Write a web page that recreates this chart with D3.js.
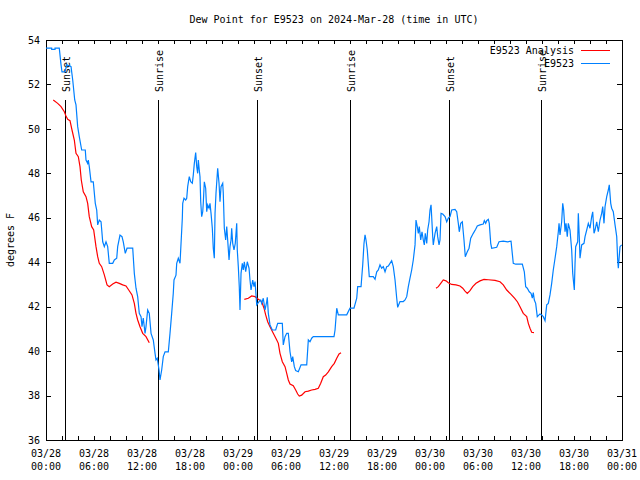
<!DOCTYPE html>
<html>
<head>
<meta charset="utf-8">
<script src="https://cdn.jsdelivr.net/npm/d3@7"></script>
<style>
  body { margin: 0; background: #fff; }
  svg text { font-family: "DejaVu Sans Mono", monospace; font-size: 10px; fill: #000; }
</style>
</head>
<body>
<div id="chart"></div>
<script>
// observed dew point (hours after 03/28 00:00 UTC, degrees F)
const obs = [
  [0,53.63],[0.71,53.63],[0.71,53.58],[1.13,53.58],[1.13,53.63],[1.66,53.63],[1.88,52.88],[2.0,52.57],[2.38,52.57],[2.59,52.88],
  [3.0,52.83],[3.13,52.8],[3.34,52.2],[3.59,51.3],[3.75,51.08],[3.96,50.1],[4.16,49.65],[4.46,49.05],[4.91,49.05],[5.0,48.6],
  [5.21,48.45],[5.29,48.6],[5.41,48.3],[5.63,47.62],[5.91,47.62],[6.16,46.65],[6.34,46.35],[6.46,45.68],[6.66,45.9],[6.88,45.82],
  [7.09,44.92],[7.29,44.7],[7.5,44.92],[7.71,44.7],[7.91,43.95],[8.34,43.95],[8.54,44.1],[8.84,44.18],[8.96,44.7],[9.25,45.22],
  [9.5,45.15],[9.66,44.92],[9.91,44.4],[10.13,44.63],[10.84,44.63],[11.04,43.5],[11.25,42.83],[11.46,42.45],[11.66,41.7],[11.88,41.55],
  [12.0,41.1],[12.16,41.49],[12.38,40.8],[12.5,41.1],[12.71,41.85],[12.91,41.7],[13.13,40.8],[13.41,40.5],[13.63,39.9],[13.75,39.6],
  [13.91,39.68],[14.13,39.15],[14.25,38.7],[14.46,39.15],[14.66,39.75],[14.88,39.97],[15.29,39.97],[15.5,40.8],[15.71,41.7],[15.91,42.6],
  [16.0,43.2],[16.25,43.42],[16.34,43.95],[16.54,44.18],[16.75,43.95],[16.88,44.85],[17.04,45.98],[17.09,46.65],[17.25,46.88],[17.46,46.8],
  [17.59,46.88],[17.71,47.4],[17.91,47.85],[18.09,47.62],[18.29,47.55],[18.41,47.92],[18.54,48.45],[18.71,48.93],[18.84,48.3],[18.96,48.0],
  [19.04,48.6],[19.16,48.15],[19.25,47.85],[19.34,46.72],[19.46,46.05],[19.59,46.27],[19.66,46.65],[19.79,47.62],[19.96,47.33],[20.09,46.27],
  [20.21,46.58],[20.38,46.43],[20.5,46.65],[20.63,46.2],[20.79,45.53],[20.91,44.63],[21.04,44.18],[21.13,46.2],[21.25,47.1],[21.46,48.23],
  [21.63,47.55],[21.75,46.72],[21.88,47.4],[22.09,47.55],[22.16,47.1],[22.29,45.53],[22.46,45.0],[22.59,45.6],[22.71,45.0],[22.88,44.1],
  [23.0,44.7],[23.13,45.0],[23.21,45.53],[23.34,44.85],[23.5,44.55],[23.66,44.85],[23.84,45.75],[23.91,44.55],[24.04,43.8],[24.16,42.9],
  [24.25,41.85],[24.38,43.5],[24.54,43.95],[24.66,43.65],[24.79,44.02],[24.96,43.57],[25.16,44.02],[25.38,43.73],[25.5,43.2],[25.63,42.75],
  [25.84,43.2],[26.0,42.9],[26.13,43.13],[26.34,42.08],[26.63,42.23],[26.84,42.3],[26.96,42.15],[27.16,42.38],[27.38,41.85],[27.59,42.23],
  [27.66,42.42],[27.79,41.7],[28.0,41.18],[28.29,40.95],[28.71,40.95],[28.96,41.25],[29.54,41.25],[29.66,40.28],[29.88,40.65],[30.09,40.8],
  [30.29,40.8],[30.5,39.97],[30.71,39.52],[30.84,39.75],[31.04,39.3],[31.21,39.12],[31.54,39.07],[31.88,39.38],[32.59,39.38],[32.79,40.5],
  [33.0,40.42],[33.21,40.58],[33.41,40.65],[36.0,40.65],[36.13,40.95],[36.34,41.93],[36.54,41.63],[37.59,41.63],[38.0,41.93],[38.5,41.93],
  [38.84,42.38],[38.96,42.9],[39.38,42.9],[39.46,43.28],[39.59,43.88],[39.75,44.85],[39.88,45.23],[40.0,45.0],[40.16,44.55],[40.41,43.35],
  [40.91,43.35],[41.13,43.23],[41.34,43.57],[41.54,43.65],[41.75,43.88],[41.96,43.73],[42.16,43.8],[42.38,43.57],[42.59,43.8],[42.79,43.83],
  [43.0,43.95],[43.21,44.07],[43.41,43.8],[43.63,43.2],[43.84,42.38],[43.96,41.97],[44.25,42.23],[44.66,42.23],[44.88,42.3],[45.09,42.45],
  [45.29,42.9],[45.5,43.28],[45.71,43.65],[45.91,44.1],[46.13,44.78],[46.25,45.9],[46.41,45.6],[46.54,45.3],[46.66,45.6],[46.84,45.0],
  [47.0,45.37],[47.16,45.0],[47.29,44.78],[47.41,45.3],[47.59,44.85],[47.71,45.45],[47.88,45.82],[48.0,46.35],[48.13,46.58],[48.21,46.05],
  [48.34,45.15],[48.41,44.78],[48.63,45.3],[48.84,45.6],[48.96,45.15],[49.13,44.78],[49.25,45.0],[49.38,46.2],[49.59,46.17],[49.88,46.05],
  [50.09,45.82],[50.29,45.98],[50.5,46.05],[50.71,46.35],[51.13,46.38],[51.34,46.27],[51.54,45.75],[51.66,45.37],[51.84,45.75],[52.04,45.82],
  [52.25,45.0],[52.41,44.25],[52.66,44.47],[52.88,44.63],[53.09,45.08],[53.41,45.3],[53.71,45.48],[53.91,45.63],[54.25,45.68],[54.66,45.72],
  [54.79,45.87],[54.96,45.75],[55.09,45.87],[55.29,45.93],[55.41,45.75],[55.59,44.85],[55.71,44.63],[56.34,44.67],[56.63,44.92],[57.16,44.95],
  [57.71,44.92],[58.13,44.95],[58.41,43.95],[58.71,43.91],[59.54,43.92],[59.79,43.57],[59.96,42.9],[60.16,42.83],[60.41,42.67],[60.63,42.6],
  [60.79,42.38],[60.91,42.63],[61.04,42.3],[61.21,42.15],[61.41,41.55],[61.63,41.63],[61.75,41.67],[61.96,41.63],[62.16,41.55],[62.38,41.37],
  [62.59,42.08],[62.79,42.15],[63.0,42.53],[63.21,43.05],[63.41,43.65],[63.63,44.18],[63.84,44.7],[64.04,45.37],[64.13,45.75],[64.25,45.23],
  [64.46,45.82],[64.59,46.65],[64.71,46.35],[64.88,45.37],[65.0,45.75],[65.16,45.15],[65.29,45.75],[65.5,45.45],[65.71,44.55],[65.84,43.5],
  [65.96,43.05],[66.04,42.75],[66.13,43.95],[66.21,44.7],[66.46,44.92],[66.54,46.2],[66.66,45.15],[66.75,44.18],[66.96,44.78],[67.25,44.85],
  [67.38,45.15],[67.59,45.45],[67.79,45.75],[68.0,45.53],[68.21,46.05],[68.34,46.27],[68.5,45.3],[68.63,45.45],[68.84,45.82],[69.04,45.37],
  [69.25,45.9],[69.46,46.2],[69.59,46.5],[69.75,45.75],[69.88,46.5],[70.09,46.95],[70.29,47.25],[70.41,47.48],[70.59,46.65],[70.71,46.43],
  [70.91,46.27],[71.13,45.68],[71.34,45.15],[71.46,44.1],[71.54,43.73],[71.75,44.7],[71.96,44.78]
];

// analysis runs (three separate nights)
const anaRun1 = [
  [0.91,51.3],[1.46,51.15],[1.88,51.0],[2.29,50.77],[2.5,50.58],[2.71,50.43],[3.0,50.37],[3.25,49.95],[3.54,49.5],[3.75,48.9],
  [4.04,48.75],[4.25,48.3],[4.41,47.7],[4.66,47.17],[5.0,46.95],[5.21,46.65],[5.41,46.05],[5.71,45.6],[5.96,45.45],[6.25,44.7],
  [6.46,44.25],[6.66,43.95],[6.96,43.8],[7.29,43.43],[7.63,42.98],[7.91,42.9],[8.34,43.02],[8.75,43.1],[9.16,43.05],[9.59,42.98],
  [10.0,42.93],[10.34,42.75],[10.75,42.53],[11.04,42.15],[11.25,41.7],[11.46,41.4],[11.75,41.1],[12.09,40.8],[12.5,40.65],[12.91,40.38]
];
const anaRun2 = [
  [24.79,42.33],[25.29,42.38],[25.71,42.48],[26.13,42.45],[26.54,42.33],[26.96,42.23],[27.25,41.93],[27.46,41.63],[27.71,41.32],[28.0,41.1],
  [28.41,40.8],[28.84,40.5],[29.04,40.35],[29.25,39.9],[29.54,39.52],[29.88,39.3],[30.09,39.0],[30.29,38.7],[30.5,38.52],[30.91,38.44],
  [31.21,38.25],[31.46,38.07],[31.66,37.98],[31.96,38.02],[32.38,38.17],[32.79,38.2],[33.21,38.25],[33.63,38.28],[34.04,38.33],[34.34,38.55],
  [34.66,38.85],[34.96,38.92],[35.29,39.07],[35.71,39.3],[36.04,39.45],[36.34,39.68],[36.63,39.87],[36.88,39.93]
];
const anaRun3 = [
  [48.75,42.83],[49.04,42.9],[49.34,43.05],[49.66,43.2],[50.0,43.16],[50.29,43.08],[50.71,43.0],[51.25,42.98],[51.75,42.93],[52.09,42.83],
  [52.38,42.7],[52.66,42.6],[53.0,42.72],[53.34,42.9],[53.75,43.05],[54.25,43.16],[54.75,43.23],[55.29,43.21],[56.13,43.18],[56.75,43.12],
  [57.16,42.98],[57.59,42.75],[58.13,42.55],[58.59,42.37],[58.94,42.21],[59.25,42.0],[59.66,41.7],[60.09,41.55],[60.29,41.25],[60.5,41.03],
  [60.71,40.85],[61.0,40.83]
];

const sunHours = [2.42, 14.04, 26.42, 38.04, 50.42, 61.92];
const sunLabels = ["Sunset", "Sunrise", "Sunset", "Sunrise", "Sunset", "Sunrise"];
const yTicks = [36, 38, 40, 42, 44, 46, 48, 50, 52, 54];
const seriesNames = ["E9523 Analysis", "E9523"];
const seriesColors = ["#ff0000", "#0080ff"];

const W = 640, H = 480;
const margin = { top: 40, right: 18, bottom: 40, left: 46 };
const plotL = margin.left, plotR = W - margin.right;
const plotT = margin.top, plotB = H - margin.bottom;

const t0 = new Date(Date.UTC(2024, 2, 28));
const t1 = new Date(Date.UTC(2024, 2, 31));
const at = h => new Date(t0.getTime() + h * 3600e3);

const svg = d3.select("#chart").append("svg")
  .attr("width", W)
  .attr("height", H);

const x = d3.scaleUtc().domain([t0, t1]).range([plotL, plotR]);
const y = d3.scaleLinear().domain([36, 54]).range([plotB, plotT]);

// axes: ticks inward on all four sides
const fixAxis = g => {
  g.select(".domain").remove();
  g.attr("font-family", null).attr("font-size", null);
  g.selectAll("line").attr("shape-rendering", "crispEdges");
};

svg.append("g")
  .attr("transform", `translate(0,${plotB})`)
  .call(d3.axisBottom(x).ticks(d3.utcHour.every(2)).tickSize(-4).tickFormat(""))
  .call(fixAxis);

svg.append("g")
  .attr("transform", `translate(0,${plotT})`)
  .call(d3.axisTop(x).ticks(d3.utcHour.every(2)).tickSize(-4).tickFormat(""))
  .call(fixAxis);

svg.append("g")
  .attr("transform", `translate(${plotL},0)`)
  .call(d3.axisLeft(y).tickValues(yTicks).tickSize(-5).tickPadding(6))
  .call(fixAxis);

svg.append("g")
  .attr("transform", `translate(${plotR},0)`)
  .call(d3.axisRight(y).tickValues(yTicks).tickSize(-5).tickFormat(""))
  .call(fixAxis);

// two-line date/time labels every 6 hours
const dayFmt = d3.utcFormat("%m/%d"), hourFmt = d3.utcFormat("%H:%M");
const xLab = svg.append("g").selectAll("text")
  .data(x.ticks(d3.utcHour.every(6)))
  .enter()
  .append("text")
  .attr("text-anchor", "middle");
xLab.append("tspan").attr("x", d => x(d)).attr("y", plotB + 17).text(d => dayFmt(d));
xLab.append("tspan").attr("x", d => x(d)).attr("y", plotB + 30).text(d => hourFmt(d));

// plot border
svg.append("rect")
  .attr("x", plotL + 0.5)
  .attr("y", plotT + 0.5)
  .attr("width", plotR - plotL)
  .attr("height", plotB - plotT)
  .attr("fill", "none")
  .attr("stroke", "#000")
  .attr("shape-rendering", "crispEdges");

// sunrise / sunset markers
const graphY = f => plotB - f * (plotB - plotT);
const sun = svg.append("g").selectAll("g")
  .data(sunHours)
  .enter()
  .append("g");

sun.append("line")
  .attr("x1", d => Math.round(x(at(d))) + 0.5)
  .attr("x2", d => Math.round(x(at(d))) + 0.5)
  .attr("y1", plotB)
  .attr("y2", graphY(0.85))
  .attr("stroke", "#000")
  .attr("shape-rendering", "crispEdges");

sun.append("text")
  .attr("transform", d => `translate(${Math.round(x(at(d))) + 5},${graphY(0.87)}) rotate(-90)`)
  .text((d, i) => sunLabels[i]);

// data lines
const line = d3.line()
  .x(d => x(at(d[0])))
  .y(d => y(d[1]));

[anaRun1, anaRun2, anaRun3].forEach(run => {
  svg.append("path")
    .datum(run)
    .attr("d", line)
    .attr("fill", "none")
    .attr("stroke", seriesColors[0])
    .attr("stroke-width", 1.2);
});

svg.append("path")
  .datum(obs)
  .attr("d", line)
  .attr("fill", "none")
  .attr("stroke", seriesColors[1])
  .attr("stroke-width", 1.2);

// legend, top right inside the plot
const legend = svg.append("g").selectAll("g")
  .data(seriesNames)
  .enter()
  .append("g")
  .attr("transform", (d, i) => `translate(0,${plotT + 10 + i * 13})`);

legend.append("text")
  .attr("x", plotR - 48)
  .attr("y", 4)
  .attr("text-anchor", "end")
  .text(d => d);

legend.append("line")
  .attr("x1", plotR - 41)
  .attr("x2", plotR - 12)
  .attr("y1", 0.5)
  .attr("y2", 0.5)
  .attr("stroke", (d, i) => seriesColors[i])
  .attr("shape-rendering", "crispEdges");

// title and y label
svg.append("text")
  .attr("x", (plotL + plotR) / 2)
  .attr("y", 23)
  .attr("text-anchor", "middle")
  .text("Dew Point for E9523 on 2024-Mar-28 (time in UTC)");

svg.append("text")
  .attr("transform", `translate(14,${(plotT + plotB) / 2}) rotate(-90)`)
  .attr("text-anchor", "middle")
  .text("degrees F");
</script>
</body>
</html>
